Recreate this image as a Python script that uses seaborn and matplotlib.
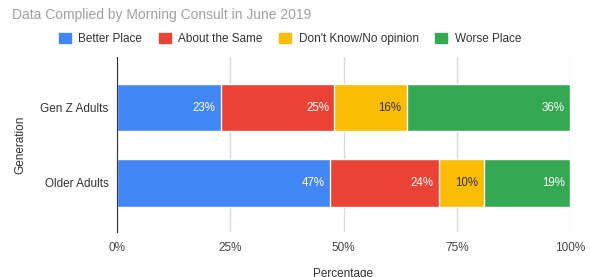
import numpy as np
import pandas as pd
import matplotlib
matplotlib.use("Agg")
import matplotlib.pyplot as plt
import seaborn as sns

# data
generations = ["Gen Z Adults", "Older Adults"]
responses = ["Better Place", "About the Same", "Don't Know/No opinion", "Worse Place"]
better = [23, 47]
same = [25, 24]
dont_know = [16, 10]
worse = [36, 19]
colors = ["#4285F4", "#EA4335", "#FBBC04", "#34A853"]
label_colors = ["white", "white", "#333333", "white"]

sns.set_style("white")
plt.rcParams["font.family"] = ["Liberation Sans", "DejaVu Sans"]

df = pd.DataFrame({"Generation": generations, responses[0]: better, responses[1]: same,
                   responses[2]: dont_know, responses[3]: worse})
cum = df[responses].cumsum(axis=1)

fig = plt.figure(figsize=(5.9, 2.77), dpi=100)
ax = fig.add_axes([117 / 590, 1 - 232 / 277, 453 / 590, 175 / 277])

# stacked bars: draw cumulative totals from largest to smallest
for i in range(len(responses) - 1, -1, -1):
    sns.barplot(x=cum[responses[i]], y=df["Generation"], color=colors[i], orient="h",
                width=0.63, ax=ax, saturation=1, zorder=3)

# segment labels
for i, r in enumerate(responses):
    for j in range(len(generations)):
        end = cum[r].iloc[j]
        ax.text(end - 1.2, j, f"{df[r].iloc[j]}%", ha="right", va="center",
                fontsize=8.3, color=label_colors[i], zorder=4)

ax.set_xlim(0, 100)
ax.set_ylim(1.65, -0.67)
ax.set_xticks([0, 25, 50, 75, 100])
ax.set_xticklabels(["0%", "25%", "50%", "75%", "100%"], fontsize=8.5, color="#444444")
ax.tick_params(axis="y", labelsize=8.5, labelcolor="#333333", length=0, pad=6)
ax.tick_params(axis="x", length=0, pad=7)
ax.xaxis.grid(True, color="#d9d9d9", linewidth=1, zorder=0)
ax.set_axisbelow(True)
for s in ["top", "right", "bottom"]:
    ax.spines[s].set_visible(False)
ax.spines["left"].set_color("#333333")
ax.spines["left"].set_zorder(5)
ax.set_xlabel("Percentage", fontsize=8.5, color="#333333", labelpad=10)
ax.set_ylabel("Generation", fontsize=8.5, color="#333333", labelpad=10)

handles = [plt.Rectangle((0, 0), 1, 1, color=c) for c in colors]
fig.legend(handles, responses, loc="center", bbox_to_anchor=(290 / 590, 1 - 39 / 277),
           ncol=4, frameon=False, fontsize=8.5, handlelength=1.0, handleheight=1.0,
           handletextpad=0.65, columnspacing=1.4, labelcolor="#333333")

fig.text(12 / 590, 1 - 15 / 277, "Data Complied by Morning Consult in June 2019",
         fontsize=10, color="#a0a0a0", ha="left", va="center")

fig.savefig("out.png", dpi=100)
